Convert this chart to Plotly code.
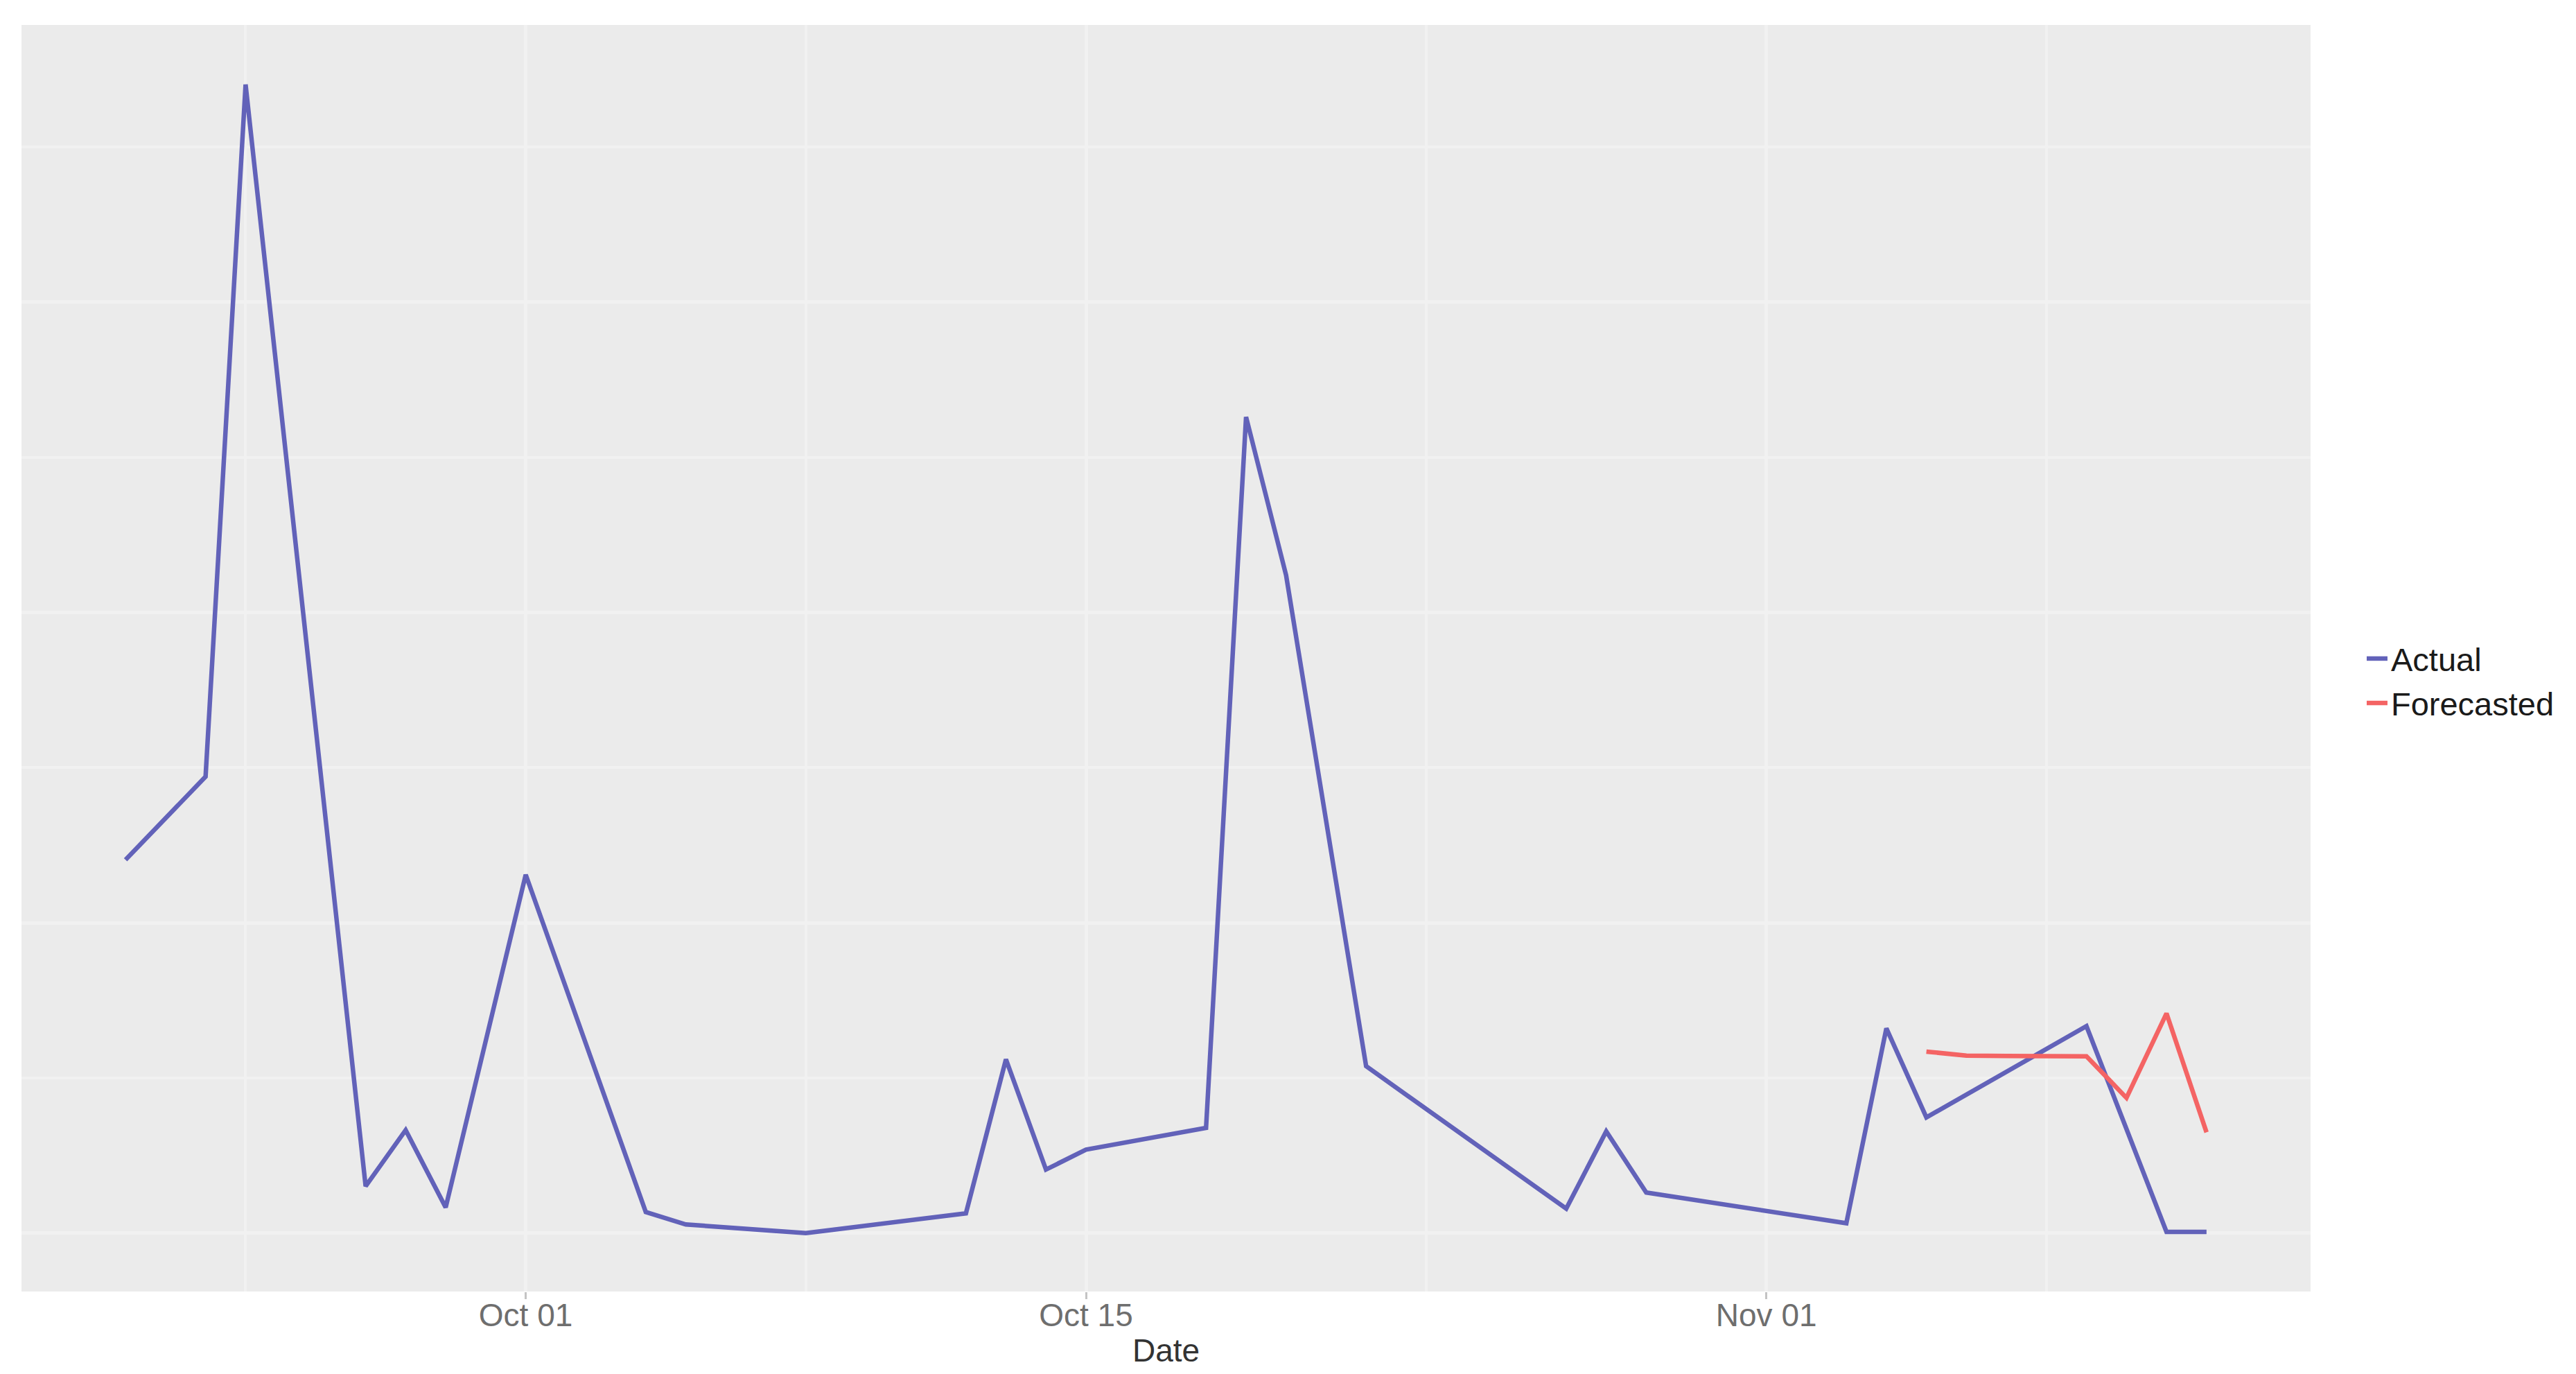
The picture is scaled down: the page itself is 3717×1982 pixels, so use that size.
import plotly.graph_objects as go

# ---- data ----
actual_dates = ["2020-09-21", "2020-09-23", "2020-09-24", "2020-09-27", "2020-09-28",
                "2020-09-29", "2020-10-01", "2020-10-04", "2020-10-05", "2020-10-08",
                "2020-10-12", "2020-10-13", "2020-10-14", "2020-10-15", "2020-10-18",
                "2020-10-19", "2020-10-20", "2020-10-22", "2020-10-27", "2020-10-28",
                "2020-10-29", "2020-11-03", "2020-11-04", "2020-11-05", "2020-11-09",
                "2020-11-11", "2020-11-12"]
actual_values = [1203, 1471, 3701, 151, 332,
                 83, 1155, 68, 28, 0,
                 64, 560, 205, 269, 339,
                 2630, 2120, 538, 79, 328,
                 131, 32, 660, 373, 667,
                 4, 4]

forecast_dates = ["2020-11-05", "2020-11-06", "2020-11-07", "2020-11-08",
                  "2020-11-09", "2020-11-10", "2020-11-11", "2020-11-12"]
forecast_values = [585, 572, 571, 571, 570, 436, 708, 325]

x_tick_vals = ["2020-10-01", "2020-10-15", "2020-11-01"]
x_tick_text = ["Oct 01", "Oct 15", "Nov 01"]
x_minor_vals = ["2020-09-24", "2020-10-08", "2020-10-23 12:00", "2020-11-08"]
y_major_vals = [0, 1000, 2000, 3000]
y_minor_vals = [500, 1500, 2500, 3500]

x_range = ["2020-09-18 09:36", "2020-11-14 14:24"]
y_range = [-188, 3893]

FONT = "Liberation Sans, Arial, sans-serif"
GRID = "#f1f1f1"

fig = go.Figure()
fig.add_trace(go.Scatter(x=actual_dates, y=actual_values, mode="lines", name="Actual",
                         line=dict(color="#6262b9", width=6.5)))
fig.add_trace(go.Scatter(x=forecast_dates, y=forecast_values, mode="lines", name="Forecasted",
                         line=dict(color="#f46464", width=6.5)))

# the page body has an 8px margin, so the figure is sized to fit inside the window
fig.update_layout(
    width=3701, height=1966,
    margin=dict(l=23, r=375, t=28, b=111, autoexpand=False),
    paper_bgcolor="white",
    plot_bgcolor="#ebebeb",
    font=dict(family=FONT, size=46, color="#6e6e6e"),
    showlegend=True,
    legend=dict(x=1.023, xanchor="left", y=0.482, yanchor="middle",
                font=dict(family=FONT, size=47, color="#1a1a1a"),
                bgcolor="white", tracegroupgap=0),
    xaxis=dict(
        type="date", range=x_range, automargin=False,
        tickmode="array", tickvals=x_tick_vals, ticktext=x_tick_text,
        ticks="outside", ticklen=10, tickwidth=3, tickcolor="#c4c4c4",
        ticklabelstandoff=-16,
        tickfont=dict(family=FONT, size=46, color="#6e6e6e"),
        showgrid=True, gridcolor=GRID, gridwidth=5,
        minor=dict(tickmode="array", tickvals=x_minor_vals, showgrid=True,
                   gridcolor=GRID, gridwidth=4, ticks=""),
        zeroline=False, showline=False,
        title=dict(text="Date", font=dict(family=FONT, size=46, color="#333333"), standoff=0),
    ),
    yaxis=dict(
        range=y_range, automargin=False,
        tickmode="array", tickvals=y_major_vals,
        showticklabels=False, ticks="",
        showgrid=True, gridcolor=GRID, gridwidth=5,
        minor=dict(tickmode="array", tickvals=y_minor_vals, showgrid=True,
                   gridcolor=GRID, gridwidth=4, ticks=""),
        zeroline=False, showline=False,
    ),
)

fig.write_html("out.html")
